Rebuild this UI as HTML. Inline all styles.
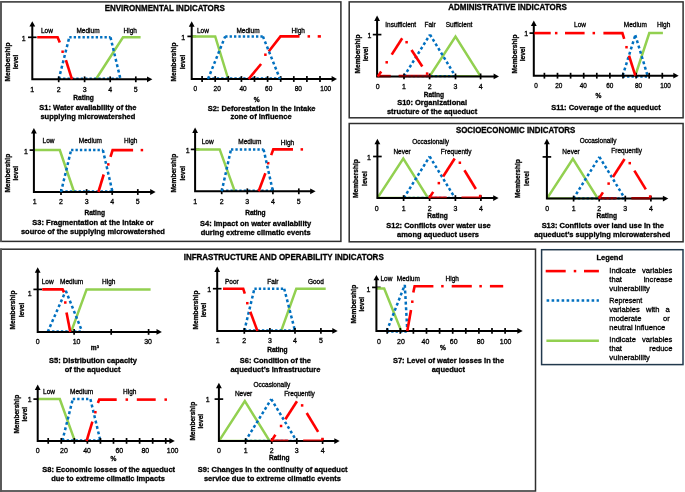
<!DOCTYPE html>
<html><head><meta charset="utf-8"><title>Fuzzy membership functions</title>
<style>
html,body{margin:0;padding:0;background:#fff;}
body{width:685px;height:492px;overflow:hidden;position:relative;font-family:"Liberation Sans",Arial,sans-serif;}
svg{position:absolute;left:0;top:0;display:block}
svg text{font-family:"Liberation Sans",Arial,sans-serif;fill:#000;stroke:#000;stroke-width:0.3px}
</style></head><body>
<svg width="685" height="492" viewBox="0 0 685 492">
<rect x="0" y="0" width="685" height="492" fill="#fff"/>
<rect x="0.9" y="1.9" width="340.0" height="239.5" fill="none" stroke="#2e2e2e" stroke-width="1.5"/>
<rect x="349.2" y="1.9" width="333.90000000000003" height="115.89999999999999" fill="none" stroke="#2e2e2e" stroke-width="1.5"/>
<rect x="349.2" y="123.5" width="333.90000000000003" height="118.30000000000001" fill="none" stroke="#2e2e2e" stroke-width="1.5"/>
<rect x="0.9" y="249.2" width="534.6" height="241.8" fill="none" stroke="#2e2e2e" stroke-width="1.5"/>
<path d="M0.95 1.2 V242.1" stroke="#585858" stroke-width="1.9"/>
<path d="M0.95 248.5 V492" stroke="#585858" stroke-width="1.9"/>
<rect x="541.6" y="249.7" width="141.39999999999998" height="114.90000000000003" fill="none" stroke="#22394d" stroke-width="1.5"/>
<text transform="translate(164.80,11.24) scale(1,1.04)" font-size="8.0" text-anchor="middle" font-weight="bold">ENVIRONMENTAL INDICATORS</text>
<text transform="translate(507.50,10.24) scale(1,1.04)" font-size="8.0" text-anchor="middle" font-weight="bold">ADMINISTRATIVE INDICATORS</text>
<text transform="translate(515.60,132.70) scale(1,1.04)" font-size="7.9" text-anchor="middle" font-weight="bold">SOCIOECONOMIC INDICATORS</text>
<text transform="translate(283.70,259.64) scale(1,1.04)" font-size="8.0" text-anchor="middle" font-weight="bold">INFRASTRUCTURE AND OPERABILITY INDICATORS</text>
<path d="M28.00 37.30 H36.60" stroke="#000" stroke-width="1.7"/>
<path d="M95.90 79.30 L123.00 37.30 L140.60 37.30" fill="none" stroke="#92d050" stroke-width="2.5" stroke-linejoin="miter" stroke-linecap="butt"/>
<path d="M58.70 79.30 L69.30 37.30" fill="none" stroke="#0070c0" stroke-width="2.5" stroke-dasharray="2.93 2.60" stroke-linejoin="miter" stroke-linecap="butt"/>
<path d="M69.30 37.30 L110.50 37.30" fill="none" stroke="#0070c0" stroke-width="2.5" stroke-dasharray="2.33 2.07" stroke-linejoin="miter" stroke-linecap="butt"/>
<path d="M110.50 37.30 L120.50 79.30" fill="none" stroke="#0070c0" stroke-width="2.5" stroke-dasharray="2.94 2.60" stroke-linejoin="miter" stroke-linecap="butt"/>
<path d="M58.70 78.70 L120.50 78.70" fill="none" stroke="#0070c0" stroke-width="2.2" stroke-dasharray="2.33 2.07" stroke-linejoin="miter" stroke-linecap="butt"/>
<path d="M32.30 24.20 V79.30 H149.40" fill="none" stroke="#000" stroke-width="2.0" stroke-linejoin="miter"/>
<path d="M32.30 21.20 l2.9 5.4 h-5.8 z" fill="#000"/>
<path d="M152.40 79.30 l-5.4 -2.9 v5.8 z" fill="#000"/>
<path d="M58.70 76.40 V82.20" stroke="#000" stroke-width="1.7"/>
<path d="M84.60 76.40 V82.20" stroke="#000" stroke-width="1.7"/>
<path d="M110.20 76.40 V82.20" stroke="#000" stroke-width="1.7"/>
<path d="M135.80 76.40 V82.20" stroke="#000" stroke-width="1.7"/>
<path d="M37.20 37.30 L57.60 37.30 L59.80 42.60" fill="none" stroke="#ff0000" stroke-width="2.6" stroke-linejoin="miter" stroke-linecap="butt"/>
<path d="M65.90 60.20 L72.00 79.30" fill="none" stroke="#ff0000" stroke-width="2.6" stroke-linejoin="miter" stroke-linecap="butt"/>
<rect x="61.35" y="50.45" width="2.50" height="2.50" fill="#ff0000"/>
<text transform="translate(23.80,40.87) scale(1,1.04)" font-size="7.0" text-anchor="middle">1</text>
<text transform="translate(32.30,91.77) scale(1,1.04)" font-size="7.0" text-anchor="middle">1</text>
<text transform="translate(58.70,91.77) scale(1,1.04)" font-size="7.0" text-anchor="middle">2</text>
<text transform="translate(84.60,91.77) scale(1,1.04)" font-size="7.0" text-anchor="middle">3</text>
<text transform="translate(110.20,91.77) scale(1,1.04)" font-size="7.0" text-anchor="middle">4</text>
<text transform="translate(135.80,91.77) scale(1,1.04)" font-size="7.0" text-anchor="middle">5</text>
<text transform="translate(46.90,33.39) scale(1,1.04)" font-size="6.5" text-anchor="middle">Low</text>
<text transform="translate(88.00,33.39) scale(1,1.04)" font-size="6.5" text-anchor="middle">Medium</text>
<text transform="translate(130.30,33.39) scale(1,1.04)" font-size="6.5" text-anchor="middle">High</text>
<text transform="translate(8.10,62.00) rotate(-90)" x="0" y="2.38" font-size="6.6" text-anchor="middle" font-weight="bold">Membership</text>
<text transform="translate(16.10,62.00) rotate(-90)" x="0" y="2.38" font-size="6.6" text-anchor="middle" font-weight="bold">level</text>
<text transform="translate(83.60,100.42) scale(1,1.04)" font-size="6.6" text-anchor="middle" font-weight="bold">Rating</text>
<text transform="translate(87.90,110.25) scale(1,1.04)" font-size="7.5" text-anchor="middle" font-weight="bold">S1: Water availability of the</text>
<text transform="translate(87.90,119.45) scale(1,1.04)" font-size="7.5" text-anchor="middle" font-weight="bold">supplying microwatershed</text>
<path d="M187.40 36.40 H196.00" stroke="#000" stroke-width="1.7"/>
<path d="M191.70 36.40 L215.20 36.40 L228.20 79.00" fill="none" stroke="#92d050" stroke-width="2.5" stroke-linejoin="miter" stroke-linecap="butt"/>
<path d="M208.00 78.40 L280.00 78.40" fill="none" stroke="#0070c0" stroke-width="2.2" stroke-dasharray="2.33 2.07" stroke-linejoin="miter" stroke-linecap="butt"/>
<path d="M191.70 24.30 V79.00 H334.00" fill="none" stroke="#000" stroke-width="2.0" stroke-linejoin="miter"/>
<path d="M191.70 21.30 l2.9 5.4 h-5.8 z" fill="#000"/>
<path d="M337.00 79.00 l-5.4 -2.9 v5.8 z" fill="#000"/>
<path d="M202.10 76.10 V81.90" stroke="#000" stroke-width="1.7"/>
<path d="M215.20 76.10 V81.90" stroke="#000" stroke-width="1.7"/>
<path d="M228.30 76.10 V81.90" stroke="#000" stroke-width="1.7"/>
<path d="M241.40 76.10 V81.90" stroke="#000" stroke-width="1.7"/>
<path d="M254.50 76.10 V81.90" stroke="#000" stroke-width="1.7"/>
<path d="M267.60 76.10 V81.90" stroke="#000" stroke-width="1.7"/>
<path d="M280.70 76.10 V81.90" stroke="#000" stroke-width="1.7"/>
<path d="M293.80 76.10 V81.90" stroke="#000" stroke-width="1.7"/>
<path d="M306.90 76.10 V81.90" stroke="#000" stroke-width="1.7"/>
<path d="M320.00 76.10 V81.90" stroke="#000" stroke-width="1.7"/>
<path d="M248.60 79.00 L261.10 64.00" fill="none" stroke="#ff0000" stroke-width="2.6" stroke-linejoin="miter" stroke-linecap="butt"/>
<path d="M268.70 51.50 L280.50 36.40 L299.50 36.40" fill="none" stroke="#ff0000" stroke-width="2.6" stroke-linejoin="miter" stroke-linecap="butt"/>
<path d="M317.70 36.40 L320.90 36.40" fill="none" stroke="#ff0000" stroke-width="2.6" stroke-linejoin="miter" stroke-linecap="butt"/>
<rect x="264.15" y="53.45" width="2.50" height="2.50" fill="#ff0000"/>
<rect x="307.55" y="35.15" width="2.50" height="2.50" fill="#ff0000"/>
<path d="M208.00 79.00 L225.20 36.40" fill="none" stroke="#0070c0" stroke-width="2.5" stroke-dasharray="2.89 2.56" stroke-linejoin="miter" stroke-linecap="butt"/>
<path d="M225.20 36.40 L262.90 36.40" fill="none" stroke="#0070c0" stroke-width="2.5" stroke-dasharray="2.33 2.07" stroke-linejoin="miter" stroke-linecap="butt"/>
<path d="M262.90 36.40 L280.00 79.00" fill="none" stroke="#0070c0" stroke-width="2.5" stroke-dasharray="2.89 2.56" stroke-linejoin="miter" stroke-linecap="butt"/>
<text transform="translate(183.30,40.27) scale(1,1.04)" font-size="7.0" text-anchor="middle">1</text>
<text transform="translate(195.30,90.69) scale(1,1.04)" font-size="6.5" text-anchor="middle">0</text>
<text transform="translate(217.20,90.69) scale(1,1.04)" font-size="6.5" text-anchor="middle">20</text>
<text transform="translate(243.00,90.69) scale(1,1.04)" font-size="6.5" text-anchor="middle">40</text>
<text transform="translate(268.70,90.69) scale(1,1.04)" font-size="6.5" text-anchor="middle">60</text>
<text transform="translate(298.30,90.69) scale(1,1.04)" font-size="6.5" text-anchor="middle">80</text>
<text transform="translate(325.70,90.69) scale(1,1.04)" font-size="6.5" text-anchor="middle">100</text>
<text transform="translate(202.90,33.29) scale(1,1.04)" font-size="6.5" text-anchor="middle">Low</text>
<text transform="translate(248.00,33.29) scale(1,1.04)" font-size="6.5" text-anchor="middle">Medium</text>
<text transform="translate(298.30,32.59) scale(1,1.04)" font-size="6.5" text-anchor="middle">High</text>
<text transform="translate(173.70,62.00) rotate(-90)" x="0" y="2.38" font-size="6.6" text-anchor="middle" font-weight="bold">Membership</text>
<text transform="translate(182.20,62.00) rotate(-90)" x="0" y="2.38" font-size="6.6" text-anchor="middle" font-weight="bold">level</text>
<text transform="translate(256.60,102.32) scale(1,1.04)" font-size="6.6" text-anchor="middle" font-weight="bold">%</text>
<text transform="translate(261.60,110.75) scale(1,1.04)" font-size="7.5" text-anchor="middle" font-weight="bold">S2: Deforestation in the intake</text>
<text transform="translate(261.00,119.45) scale(1,1.04)" font-size="7.5" text-anchor="middle" font-weight="bold">zone of influence</text>
<path d="M29.60 150.10 H38.20" stroke="#000" stroke-width="1.7"/>
<path d="M33.90 150.10 L59.80 150.10 L74.10 192.00" fill="none" stroke="#92d050" stroke-width="2.5" stroke-linejoin="miter" stroke-linecap="butt"/>
<path d="M61.00 191.40 L112.50 191.40" fill="none" stroke="#0070c0" stroke-width="2.2" stroke-dasharray="2.33 2.07" stroke-linejoin="miter" stroke-linecap="butt"/>
<path d="M33.90 131.00 V192.00 H152.60" fill="none" stroke="#000" stroke-width="2.0" stroke-linejoin="miter"/>
<path d="M33.90 128.00 l2.9 5.4 h-5.8 z" fill="#000"/>
<path d="M155.60 192.00 l-5.4 -2.9 v5.8 z" fill="#000"/>
<path d="M61.00 189.10 V194.90" stroke="#000" stroke-width="1.7"/>
<path d="M86.60 189.10 V194.90" stroke="#000" stroke-width="1.7"/>
<path d="M112.20 189.10 V194.90" stroke="#000" stroke-width="1.7"/>
<path d="M137.80 189.10 V194.90" stroke="#000" stroke-width="1.7"/>
<path d="M98.40 192.00 L103.70 174.50" fill="none" stroke="#ff0000" stroke-width="2.6" stroke-linejoin="miter" stroke-linecap="butt"/>
<path d="M110.50 156.90 L112.60 150.10 L133.10 150.10" fill="none" stroke="#ff0000" stroke-width="2.6" stroke-linejoin="miter" stroke-linecap="butt"/>
<rect x="107.05" y="163.15" width="2.50" height="2.50" fill="#ff0000"/>
<rect x="140.65" y="148.85" width="2.50" height="2.50" fill="#ff0000"/>
<path d="M61.00 192.00 L71.10 150.10" fill="none" stroke="#0070c0" stroke-width="2.5" stroke-dasharray="2.94 2.60" stroke-linejoin="miter" stroke-linecap="butt"/>
<path d="M71.10 150.10 L102.90 150.10" fill="none" stroke="#0070c0" stroke-width="2.5" stroke-dasharray="2.33 2.07" stroke-linejoin="miter" stroke-linecap="butt"/>
<path d="M102.90 150.10 L112.50 192.00" fill="none" stroke="#0070c0" stroke-width="2.5" stroke-dasharray="2.94 2.61" stroke-linejoin="miter" stroke-linecap="butt"/>
<text transform="translate(25.90,153.97) scale(1,1.04)" font-size="7.0" text-anchor="middle">1</text>
<text transform="translate(34.60,204.27) scale(1,1.04)" font-size="7.0" text-anchor="middle">1</text>
<text transform="translate(61.00,204.27) scale(1,1.04)" font-size="7.0" text-anchor="middle">2</text>
<text transform="translate(86.60,204.27) scale(1,1.04)" font-size="7.0" text-anchor="middle">3</text>
<text transform="translate(112.20,204.27) scale(1,1.04)" font-size="7.0" text-anchor="middle">4</text>
<text transform="translate(137.80,204.27) scale(1,1.04)" font-size="7.0" text-anchor="middle">5</text>
<text transform="translate(48.50,143.49) scale(1,1.04)" font-size="6.5" text-anchor="middle">Low</text>
<text transform="translate(90.40,143.49) scale(1,1.04)" font-size="6.5" text-anchor="middle">Medium</text>
<text transform="translate(130.80,143.19) scale(1,1.04)" font-size="6.5" text-anchor="middle">High</text>
<text transform="translate(7.60,173.20) rotate(-90)" x="0" y="2.38" font-size="6.6" text-anchor="middle" font-weight="bold">Membership</text>
<text transform="translate(16.10,173.20) rotate(-90)" x="0" y="2.38" font-size="6.6" text-anchor="middle" font-weight="bold">level</text>
<text transform="translate(94.70,215.32) scale(1,1.04)" font-size="6.6" text-anchor="middle" font-weight="bold">Rating</text>
<text transform="translate(92.90,225.45) scale(1,1.04)" font-size="7.5" text-anchor="middle" font-weight="bold">S3: Fragmentation at the intake or</text>
<text transform="translate(92.90,234.25) scale(1,1.04)" font-size="7.5" text-anchor="middle" font-weight="bold">source of the supplying microwatershed</text>
<path d="M190.80 149.40 H199.40" stroke="#000" stroke-width="1.7"/>
<path d="M195.10 149.40 L219.70 149.40 L234.80 191.30" fill="none" stroke="#92d050" stroke-width="2.5" stroke-linejoin="miter" stroke-linecap="butt"/>
<path d="M221.70 190.70 L272.90 190.70" fill="none" stroke="#0070c0" stroke-width="2.2" stroke-dasharray="2.33 2.07" stroke-linejoin="miter" stroke-linecap="butt"/>
<path d="M195.10 130.50 V191.30 H312.60" fill="none" stroke="#000" stroke-width="2.0" stroke-linejoin="miter"/>
<path d="M195.10 127.50 l2.9 5.4 h-5.8 z" fill="#000"/>
<path d="M315.60 191.30 l-5.4 -2.9 v5.8 z" fill="#000"/>
<path d="M221.70 188.40 V194.20" stroke="#000" stroke-width="1.7"/>
<path d="M247.30 188.40 V194.20" stroke="#000" stroke-width="1.7"/>
<path d="M272.90 188.40 V194.20" stroke="#000" stroke-width="1.7"/>
<path d="M298.80 188.40 V194.20" stroke="#000" stroke-width="1.7"/>
<path d="M258.60 191.30 L265.40 173.20" fill="none" stroke="#ff0000" stroke-width="2.6" stroke-linejoin="miter" stroke-linecap="butt"/>
<path d="M271.20 155.10 L273.30 149.40 L293.00 149.40" fill="none" stroke="#ff0000" stroke-width="2.6" stroke-linejoin="miter" stroke-linecap="butt"/>
<rect x="266.95" y="161.95" width="2.50" height="2.50" fill="#ff0000"/>
<rect x="300.55" y="148.15" width="2.50" height="2.50" fill="#ff0000"/>
<path d="M221.70 191.30 L231.00 149.40" fill="none" stroke="#0070c0" stroke-width="2.5" stroke-dasharray="2.94 2.61" stroke-linejoin="miter" stroke-linecap="butt"/>
<path d="M231.00 149.40 L263.60 149.40" fill="none" stroke="#0070c0" stroke-width="2.5" stroke-dasharray="2.33 2.07" stroke-linejoin="miter" stroke-linecap="butt"/>
<path d="M263.60 149.40 L272.90 191.30" fill="none" stroke="#0070c0" stroke-width="2.5" stroke-dasharray="2.94 2.61" stroke-linejoin="miter" stroke-linecap="butt"/>
<text transform="translate(187.60,153.17) scale(1,1.04)" font-size="7.0" text-anchor="middle">1</text>
<text transform="translate(195.10,204.17) scale(1,1.04)" font-size="7.0" text-anchor="middle">1</text>
<text transform="translate(221.70,204.17) scale(1,1.04)" font-size="7.0" text-anchor="middle">2</text>
<text transform="translate(247.30,204.17) scale(1,1.04)" font-size="7.0" text-anchor="middle">3</text>
<text transform="translate(272.90,204.17) scale(1,1.04)" font-size="7.0" text-anchor="middle">4</text>
<text transform="translate(298.80,204.17) scale(1,1.04)" font-size="7.0" text-anchor="middle">5</text>
<text transform="translate(207.70,143.69) scale(1,1.04)" font-size="6.5" text-anchor="middle">Low</text>
<text transform="translate(249.80,143.69) scale(1,1.04)" font-size="6.5" text-anchor="middle">Medium</text>
<text transform="translate(287.50,144.69) scale(1,1.04)" font-size="6.5" text-anchor="middle">High</text>
<text transform="translate(173.70,173.20) rotate(-90)" x="0" y="2.38" font-size="6.6" text-anchor="middle" font-weight="bold">Membership</text>
<text transform="translate(182.30,173.20) rotate(-90)" x="0" y="2.38" font-size="6.6" text-anchor="middle" font-weight="bold">level</text>
<text transform="translate(255.40,214.52) scale(1,1.04)" font-size="6.6" text-anchor="middle" font-weight="bold">Rating</text>
<text transform="translate(255.60,225.95) scale(1,1.04)" font-size="7.5" text-anchor="middle" font-weight="bold">S4: Impact on water availability</text>
<text transform="translate(255.60,235.15) scale(1,1.04)" font-size="7.5" text-anchor="middle" font-weight="bold">during extreme climatic events</text>
<path d="M372.80 34.60 H381.40" stroke="#000" stroke-width="1.7"/>
<path d="M429.60 76.40 L455.50 36.60 L480.60 76.40" fill="none" stroke="#92d050" stroke-width="2.5" stroke-linejoin="miter" stroke-linecap="butt"/>
<path d="M429.60 76.10 L480.60 76.10" fill="none" stroke="#92d050" stroke-width="2.0" stroke-linejoin="miter" stroke-linecap="butt"/>
<path d="M377.10 76.05 L390.70 76.05" fill="none" stroke="#ff0000" stroke-width="2.5" stroke-linejoin="miter" stroke-linecap="butt"/>
<path d="M398.70 76.05 L430.90 76.05" fill="none" stroke="#ff0000" stroke-width="2.5" stroke-linejoin="miter" stroke-linecap="butt"/>
<path d="M404.00 76.40 L430.00 34.60" fill="none" stroke="#0070c0" stroke-width="2.5" stroke-dasharray="2.81 2.49" stroke-linejoin="miter" stroke-linecap="butt"/>
<path d="M430.00 34.60 L455.50 76.40" fill="none" stroke="#0070c0" stroke-width="2.5" stroke-dasharray="2.81 2.49" stroke-linejoin="miter" stroke-linecap="butt"/>
<path d="M404.00 76.10 L455.50 76.10" fill="none" stroke="#0070c0" stroke-width="2.2" stroke-dasharray="2.33 2.07" stroke-linejoin="miter" stroke-linecap="butt"/>
<path d="M377.10 18.60 V76.40 H496.00" fill="none" stroke="#000" stroke-width="2.0" stroke-linejoin="miter"/>
<path d="M377.10 15.60 l2.9 5.4 h-5.8 z" fill="#000"/>
<path d="M499.00 76.40 l-5.4 -2.9 v5.8 z" fill="#000"/>
<path d="M404.00 73.50 V79.30" stroke="#000" stroke-width="1.7"/>
<path d="M429.60 73.50 V79.30" stroke="#000" stroke-width="1.7"/>
<path d="M455.50 73.50 V79.30" stroke="#000" stroke-width="1.7"/>
<path d="M480.60 73.50 V79.30" stroke="#000" stroke-width="1.7"/>
<path d="M377.10 75.95 L390.70 75.95" fill="none" stroke="#c80000" stroke-width="0.9" stroke-linejoin="miter" stroke-linecap="butt"/>
<path d="M398.70 75.95 L430.90 75.95" fill="none" stroke="#c80000" stroke-width="0.9" stroke-linejoin="miter" stroke-linecap="butt"/>
<path d="M377.80 76.40 L381.20 71.50" fill="none" stroke="#ff0000" stroke-width="2.6" stroke-linejoin="miter" stroke-linecap="butt"/>
<path d="M391.70 54.60 L402.20 38.20" fill="none" stroke="#ff0000" stroke-width="2.6" stroke-linejoin="miter" stroke-linecap="butt"/>
<path d="M411.50 50.00 L422.30 66.50" fill="none" stroke="#ff0000" stroke-width="2.6" stroke-linejoin="miter" stroke-linecap="butt"/>
<rect x="385.45" y="61.05" width="2.50" height="2.50" fill="#ff0000"/>
<rect x="405.35" y="40.95" width="2.50" height="2.50" fill="#ff0000"/>
<rect x="425.85" y="72.35" width="2.50" height="2.50" fill="#ff0000"/>
<text transform="translate(369.40,38.47) scale(1,1.04)" font-size="7.0" text-anchor="middle">1</text>
<text transform="translate(377.60,89.27) scale(1,1.04)" font-size="7.0" text-anchor="middle">0</text>
<text transform="translate(404.00,89.27) scale(1,1.04)" font-size="7.0" text-anchor="middle">1</text>
<text transform="translate(429.60,89.27) scale(1,1.04)" font-size="7.0" text-anchor="middle">2</text>
<text transform="translate(455.50,89.27) scale(1,1.04)" font-size="7.0" text-anchor="middle">3</text>
<text transform="translate(480.60,89.27) scale(1,1.04)" font-size="7.0" text-anchor="middle">4</text>
<text transform="translate(400.70,27.49) scale(1,1.04)" font-size="6.5" text-anchor="middle">Insufficient</text>
<text transform="translate(430.10,27.49) scale(1,1.04)" font-size="6.5" text-anchor="middle">Fair</text>
<text transform="translate(459.00,27.49) scale(1,1.04)" font-size="6.5" text-anchor="middle">Sufficient</text>
<text transform="translate(357.90,54.00) rotate(-90)" x="0" y="2.38" font-size="6.6" text-anchor="middle" font-weight="bold">Membership</text>
<text transform="translate(365.60,54.00) rotate(-90)" x="0" y="2.38" font-size="6.6" text-anchor="middle" font-weight="bold">level</text>
<text transform="translate(433.90,96.72) scale(1,1.04)" font-size="6.6" text-anchor="middle" font-weight="bold">Rating</text>
<text transform="translate(432.10,105.05) scale(1,1.04)" font-size="7.5" text-anchor="middle" font-weight="bold">S10: Organizational</text>
<text transform="translate(432.10,114.45) scale(1,1.04)" font-size="7.5" text-anchor="middle" font-weight="bold">structure of the aqueduct</text>
<path d="M529.50 33.10 H538.10" stroke="#000" stroke-width="1.7"/>
<path d="M635.30 75.70 L649.30 33.10 L662.90 33.10" fill="none" stroke="#92d050" stroke-width="2.5" stroke-linejoin="miter" stroke-linecap="butt"/>
<path d="M622.70 75.70 L635.30 35.10" fill="none" stroke="#0070c0" stroke-width="2.5" stroke-dasharray="2.92 2.59" stroke-linejoin="miter" stroke-linecap="butt"/>
<path d="M635.30 35.10 L647.60 75.70" fill="none" stroke="#0070c0" stroke-width="2.5" stroke-dasharray="2.92 2.59" stroke-linejoin="miter" stroke-linecap="butt"/>
<path d="M622.70 76.70 L647.60 76.70" fill="none" stroke="#0070c0" stroke-width="2.2" stroke-dasharray="2.33 2.07" stroke-linejoin="miter" stroke-linecap="butt"/>
<path d="M533.80 23.60 V75.70 H675.70" fill="none" stroke="#000" stroke-width="2.0" stroke-linejoin="miter"/>
<path d="M533.80 20.60 l2.9 5.4 h-5.8 z" fill="#000"/>
<path d="M678.70 75.70 l-5.4 -2.9 v5.8 z" fill="#000"/>
<path d="M544.40 72.80 V78.60" stroke="#000" stroke-width="1.7"/>
<path d="M557.50 72.80 V78.60" stroke="#000" stroke-width="1.7"/>
<path d="M570.60 72.80 V78.60" stroke="#000" stroke-width="1.7"/>
<path d="M583.70 72.80 V78.60" stroke="#000" stroke-width="1.7"/>
<path d="M596.80 72.80 V78.60" stroke="#000" stroke-width="1.7"/>
<path d="M609.90 72.80 V78.60" stroke="#000" stroke-width="1.7"/>
<path d="M623.00 72.80 V78.60" stroke="#000" stroke-width="1.7"/>
<path d="M636.10 72.80 V78.60" stroke="#000" stroke-width="1.7"/>
<path d="M649.20 72.80 V78.60" stroke="#000" stroke-width="1.7"/>
<path d="M662.30 72.80 V78.60" stroke="#000" stroke-width="1.7"/>
<path d="M534.30 33.10 L550.70 33.10" fill="none" stroke="#ff0000" stroke-width="2.6" stroke-linejoin="miter" stroke-linecap="butt"/>
<path d="M565.00 33.10 L584.60 33.10" fill="none" stroke="#ff0000" stroke-width="2.6" stroke-linejoin="miter" stroke-linecap="butt"/>
<path d="M603.40 33.10 L622.40 33.10 L624.20 38.90" fill="none" stroke="#ff0000" stroke-width="2.6" stroke-linejoin="miter" stroke-linecap="butt"/>
<path d="M629.00 55.70 L635.30 75.70" fill="none" stroke="#ff0000" stroke-width="2.6" stroke-linejoin="miter" stroke-linecap="butt"/>
<rect x="554.95" y="31.85" width="2.50" height="2.50" fill="#ff0000"/>
<rect x="592.55" y="31.85" width="2.50" height="2.50" fill="#ff0000"/>
<rect x="625.25" y="45.95" width="2.50" height="2.50" fill="#ff0000"/>
<text transform="translate(526.10,36.47) scale(1,1.04)" font-size="7.0" text-anchor="middle">1</text>
<text transform="translate(536.10,88.15) scale(1,1.04)" font-size="6.4" text-anchor="middle">0</text>
<text transform="translate(558.70,88.15) scale(1,1.04)" font-size="6.4" text-anchor="middle">20</text>
<text transform="translate(583.30,88.15) scale(1,1.04)" font-size="6.4" text-anchor="middle">40</text>
<text transform="translate(609.70,88.15) scale(1,1.04)" font-size="6.4" text-anchor="middle">60</text>
<text transform="translate(638.50,88.15) scale(1,1.04)" font-size="6.4" text-anchor="middle">80</text>
<text transform="translate(665.60,88.15) scale(1,1.04)" font-size="6.4" text-anchor="middle">100</text>
<text transform="translate(580.00,26.99) scale(1,1.04)" font-size="6.5" text-anchor="middle">Low</text>
<text transform="translate(635.30,26.99) scale(1,1.04)" font-size="6.5" text-anchor="middle">Medium</text>
<text transform="translate(663.60,26.99) scale(1,1.04)" font-size="6.5" text-anchor="middle">High</text>
<text transform="translate(514.80,54.00) rotate(-90)" x="0" y="2.38" font-size="6.6" text-anchor="middle" font-weight="bold">Membership</text>
<text transform="translate(522.80,54.00) rotate(-90)" x="0" y="2.38" font-size="6.6" text-anchor="middle" font-weight="bold">level</text>
<text transform="translate(598.40,97.82) scale(1,1.04)" font-size="6.6" text-anchor="middle" font-weight="bold">%</text>
<text transform="translate(605.90,109.85) scale(1,1.04)" font-size="7.5" text-anchor="middle" font-weight="bold">S11: Coverage of the aqueduct</text>
<path d="M373.10 156.50 H381.70" stroke="#000" stroke-width="1.7"/>
<path d="M377.40 198.10 L403.27 158.50 L428.11 198.10" fill="none" stroke="#92d050" stroke-width="2.5" stroke-linejoin="miter" stroke-linecap="butt"/>
<path d="M377.40 197.80 L428.11 197.80" fill="none" stroke="#92d050" stroke-width="2.0" stroke-linejoin="miter" stroke-linecap="butt"/>
<path d="M429.15 197.75 L446.75 197.75" fill="none" stroke="#ff0000" stroke-width="2.5" stroke-linejoin="miter" stroke-linecap="butt"/>
<path d="M461.49 197.75 L480.90 197.75" fill="none" stroke="#ff0000" stroke-width="2.5" stroke-linejoin="miter" stroke-linecap="butt"/>
<path d="M403.79 198.10 L429.67 156.50" fill="none" stroke="#0070c0" stroke-width="2.5" stroke-dasharray="2.81 2.49" stroke-linejoin="miter" stroke-linecap="butt"/>
<path d="M429.67 156.50 L455.02 198.10" fill="none" stroke="#0070c0" stroke-width="2.5" stroke-dasharray="2.81 2.49" stroke-linejoin="miter" stroke-linecap="butt"/>
<path d="M403.79 197.90 L455.02 197.90" fill="none" stroke="#0070c0" stroke-width="2.2" stroke-dasharray="2.33 2.07" stroke-linejoin="miter" stroke-linecap="butt"/>
<path d="M377.40 141.80 V198.10 H495.60" fill="none" stroke="#000" stroke-width="2.0" stroke-linejoin="miter"/>
<path d="M377.40 138.80 l2.9 5.4 h-5.8 z" fill="#000"/>
<path d="M498.60 198.10 l-5.4 -2.9 v5.8 z" fill="#000"/>
<path d="M403.60 195.20 V201.00" stroke="#000" stroke-width="1.7"/>
<path d="M429.60 195.20 V201.00" stroke="#000" stroke-width="1.7"/>
<path d="M455.40 195.20 V201.00" stroke="#000" stroke-width="1.7"/>
<path d="M480.90 195.20 V201.00" stroke="#000" stroke-width="1.7"/>
<path d="M429.15 197.65 L446.75 197.65" fill="none" stroke="#c80000" stroke-width="0.9" stroke-linejoin="miter" stroke-linecap="butt"/>
<path d="M461.49 197.65 L480.90 197.65" fill="none" stroke="#c80000" stroke-width="0.9" stroke-linejoin="miter" stroke-linecap="butt"/>
<path d="M429.15 198.10 L433.19 191.86" fill="none" stroke="#ff0000" stroke-width="2.6" stroke-linejoin="miter" stroke-linecap="butt"/>
<path d="M443.14 176.47 L454.71 158.58" fill="none" stroke="#ff0000" stroke-width="2.6" stroke-linejoin="miter" stroke-linecap="butt"/>
<path d="M464.43 170.23 L475.84 188.95" fill="none" stroke="#ff0000" stroke-width="2.6" stroke-linejoin="miter" stroke-linecap="butt"/>
<rect x="437.59" y="181.87" width="2.50" height="2.50" fill="#ff0000"/>
<rect x="458.61" y="161.49" width="2.50" height="2.50" fill="#ff0000"/>
<rect x="478.90" y="194.77" width="2.50" height="2.50" fill="#ff0000"/>
<text transform="translate(369.00,160.17) scale(1,1.04)" font-size="7.0" text-anchor="middle">1</text>
<text transform="translate(376.80,211.17) scale(1,1.04)" font-size="7.0" text-anchor="middle">0</text>
<text transform="translate(403.60,211.17) scale(1,1.04)" font-size="7.0" text-anchor="middle">1</text>
<text transform="translate(429.60,211.17) scale(1,1.04)" font-size="7.0" text-anchor="middle">2</text>
<text transform="translate(455.40,211.17) scale(1,1.04)" font-size="7.0" text-anchor="middle">3</text>
<text transform="translate(480.90,211.17) scale(1,1.04)" font-size="7.0" text-anchor="middle">4</text>
<text transform="translate(430.70,143.79) scale(1,1.04)" font-size="6.5" text-anchor="middle">Occasionally</text>
<text transform="translate(402.10,153.69) scale(1,1.04)" font-size="6.5" text-anchor="middle">Never</text>
<text transform="translate(456.20,153.69) scale(1,1.04)" font-size="6.5" text-anchor="middle">Frequently</text>
<text transform="translate(355.80,178.60) rotate(-90)" x="0" y="2.38" font-size="6.6" text-anchor="middle" font-weight="bold">Membership</text>
<text transform="translate(364.90,178.60) rotate(-90)" x="0" y="2.38" font-size="6.6" text-anchor="middle" font-weight="bold">level</text>
<text transform="translate(437.50,217.52) scale(1,1.04)" font-size="6.6" text-anchor="middle" font-weight="bold">Rating</text>
<text transform="translate(438.50,227.95) scale(1,1.04)" font-size="7.5" text-anchor="middle" font-weight="bold">S12: Conflicts over water use</text>
<text transform="translate(438.00,237.05) scale(1,1.04)" font-size="7.5" text-anchor="middle" font-weight="bold">among aqueduct users</text>
<path d="M542.60 156.90 H551.20" stroke="#000" stroke-width="1.7"/>
<path d="M546.90 198.60 L572.90 158.90 L597.86 198.60" fill="none" stroke="#92d050" stroke-width="2.5" stroke-linejoin="miter" stroke-linecap="butt"/>
<path d="M546.90 198.30 L597.86 198.30" fill="none" stroke="#92d050" stroke-width="2.0" stroke-linejoin="miter" stroke-linecap="butt"/>
<path d="M598.90 198.25 L616.58 198.25" fill="none" stroke="#ff0000" stroke-width="2.5" stroke-linejoin="miter" stroke-linecap="butt"/>
<path d="M631.40 198.25 L650.90 198.25" fill="none" stroke="#ff0000" stroke-width="2.5" stroke-linejoin="miter" stroke-linecap="butt"/>
<path d="M573.42 198.60 L599.42 156.90" fill="none" stroke="#0070c0" stroke-width="2.5" stroke-dasharray="2.80 2.49" stroke-linejoin="miter" stroke-linecap="butt"/>
<path d="M599.42 156.90 L624.90 198.60" fill="none" stroke="#0070c0" stroke-width="2.5" stroke-dasharray="2.81 2.49" stroke-linejoin="miter" stroke-linecap="butt"/>
<path d="M573.42 198.40 L624.90 198.40" fill="none" stroke="#0070c0" stroke-width="2.2" stroke-dasharray="2.33 2.07" stroke-linejoin="miter" stroke-linecap="butt"/>
<path d="M546.90 141.80 V198.60 H665.30" fill="none" stroke="#000" stroke-width="2.0" stroke-linejoin="miter"/>
<path d="M546.90 138.80 l2.9 5.4 h-5.8 z" fill="#000"/>
<path d="M668.30 198.60 l-5.4 -2.9 v5.8 z" fill="#000"/>
<path d="M573.60 195.70 V201.50" stroke="#000" stroke-width="1.7"/>
<path d="M599.20 195.70 V201.50" stroke="#000" stroke-width="1.7"/>
<path d="M625.30 195.70 V201.50" stroke="#000" stroke-width="1.7"/>
<path d="M650.90 195.70 V201.50" stroke="#000" stroke-width="1.7"/>
<path d="M598.90 198.15 L616.58 198.15" fill="none" stroke="#c80000" stroke-width="0.9" stroke-linejoin="miter" stroke-linecap="butt"/>
<path d="M631.40 198.15 L650.90 198.15" fill="none" stroke="#c80000" stroke-width="0.9" stroke-linejoin="miter" stroke-linecap="butt"/>
<path d="M598.90 198.60 L602.96 192.34" fill="none" stroke="#ff0000" stroke-width="2.6" stroke-linejoin="miter" stroke-linecap="butt"/>
<path d="M612.96 176.92 L624.59 158.99" fill="none" stroke="#ff0000" stroke-width="2.6" stroke-linejoin="miter" stroke-linecap="butt"/>
<path d="M634.35 170.66 L645.81 189.43" fill="none" stroke="#ff0000" stroke-width="2.6" stroke-linejoin="miter" stroke-linecap="butt"/>
<rect x="607.38" y="182.34" width="2.50" height="2.50" fill="#ff0000"/>
<rect x="628.51" y="161.91" width="2.50" height="2.50" fill="#ff0000"/>
<rect x="648.90" y="195.26" width="2.50" height="2.50" fill="#ff0000"/>
<text transform="translate(547.20,211.17) scale(1,1.04)" font-size="7.0" text-anchor="middle">0</text>
<text transform="translate(573.60,211.17) scale(1,1.04)" font-size="7.0" text-anchor="middle">1</text>
<text transform="translate(599.20,211.17) scale(1,1.04)" font-size="7.0" text-anchor="middle">2</text>
<text transform="translate(625.30,211.17) scale(1,1.04)" font-size="7.0" text-anchor="middle">3</text>
<text transform="translate(650.90,211.17) scale(1,1.04)" font-size="7.0" text-anchor="middle">4</text>
<text transform="translate(598.10,143.29) scale(1,1.04)" font-size="6.5" text-anchor="middle">Occasionally</text>
<text transform="translate(571.00,153.69) scale(1,1.04)" font-size="6.5" text-anchor="middle">Never</text>
<text transform="translate(626.70,152.89) scale(1,1.04)" font-size="6.5" text-anchor="middle">Frequently</text>
<text transform="translate(518.00,178.60) rotate(-90)" x="0" y="2.38" font-size="6.6" text-anchor="middle" font-weight="bold">Membership</text>
<text transform="translate(527.10,178.60) rotate(-90)" x="0" y="2.38" font-size="6.6" text-anchor="middle" font-weight="bold">level</text>
<text transform="translate(606.70,217.52) scale(1,1.04)" font-size="6.6" text-anchor="middle" font-weight="bold">Rating</text>
<text transform="translate(602.80,227.95) scale(1,1.04)" font-size="7.5" text-anchor="middle" font-weight="bold">S13: Conflicts over land use in the</text>
<text transform="translate(602.30,237.05) scale(1,1.04)" font-size="7.5" text-anchor="middle" font-weight="bold">aqueduct’s supplying microwatershed</text>
<path d="M33.40 289.40 H42.00" stroke="#000" stroke-width="1.7"/>
<path d="M71.10 331.90 L86.60 289.40 L150.60 289.40" fill="none" stroke="#92d050" stroke-width="2.5" stroke-linejoin="miter" stroke-linecap="butt"/>
<path d="M47.70 331.90 L65.80 290.70" fill="none" stroke="#0070c0" stroke-width="2.5" stroke-dasharray="2.87 2.55" stroke-linejoin="miter" stroke-linecap="butt"/>
<path d="M65.80 290.70 L82.30 331.90" fill="none" stroke="#0070c0" stroke-width="2.5" stroke-dasharray="2.89 2.56" stroke-linejoin="miter" stroke-linecap="butt"/>
<path d="M47.70 331.30 L82.30 331.30" fill="none" stroke="#0070c0" stroke-width="2.2" stroke-dasharray="2.33 2.07" stroke-linejoin="miter" stroke-linecap="butt"/>
<path d="M37.70 270.30 V331.90 H158.90" fill="none" stroke="#000" stroke-width="2.0" stroke-linejoin="miter"/>
<path d="M37.70 267.30 l2.9 5.4 h-5.8 z" fill="#000"/>
<path d="M161.90 331.90 l-5.4 -2.9 v5.8 z" fill="#000"/>
<path d="M74.10 329.00 V334.80" stroke="#000" stroke-width="1.7"/>
<path d="M111.20 329.00 V334.80" stroke="#000" stroke-width="1.7"/>
<path d="M148.60 329.00 V334.80" stroke="#000" stroke-width="1.7"/>
<path d="M42.20 289.40 L62.60 289.40 L64.00 292.40" fill="none" stroke="#ff0000" stroke-width="2.6" stroke-linejoin="miter" stroke-linecap="butt"/>
<path d="M66.50 312.50 L70.30 331.90" fill="none" stroke="#ff0000" stroke-width="2.6" stroke-linejoin="miter" stroke-linecap="butt"/>
<rect x="64.05" y="301.25" width="2.50" height="2.50" fill="#ff0000"/>
<text transform="translate(29.60,295.77) scale(1,1.04)" font-size="7.0" text-anchor="middle">1</text>
<text transform="translate(37.70,343.97) scale(1,1.04)" font-size="7.0" text-anchor="middle">0</text>
<text transform="translate(76.60,343.97) scale(1,1.04)" font-size="7.0" text-anchor="middle">10</text>
<text transform="translate(148.10,343.97) scale(1,1.04)" font-size="7.0" text-anchor="middle">30</text>
<text transform="translate(47.70,284.29) scale(1,1.04)" font-size="6.5" text-anchor="middle">Low</text>
<text transform="translate(71.60,284.29) scale(1,1.04)" font-size="6.5" text-anchor="middle">Medium</text>
<text transform="translate(108.70,283.99) scale(1,1.04)" font-size="6.5" text-anchor="middle">High</text>
<text transform="translate(13.10,310.00) rotate(-90)" x="0" y="2.38" font-size="6.6" text-anchor="middle" font-weight="bold">Membership</text>
<text transform="translate(21.40,310.00) rotate(-90)" x="0" y="2.38" font-size="6.6" text-anchor="middle" font-weight="bold">level</text>
<text transform="translate(94.90,349.62) scale(1,1.04)" font-size="6.6" text-anchor="middle" font-weight="bold">m³</text>
<text transform="translate(92.90,362.85) scale(1,1.04)" font-size="7.5" text-anchor="middle" font-weight="bold">S5: Distribution capacity</text>
<text transform="translate(92.50,371.65) scale(1,1.04)" font-size="7.5" text-anchor="middle" font-weight="bold">of the aqueduct</text>
<path d="M212.90 288.70 H221.50" stroke="#000" stroke-width="1.7"/>
<path d="M281.20 330.90 L296.30 288.70 L325.70 288.70" fill="none" stroke="#92d050" stroke-width="2.5" stroke-linejoin="miter" stroke-linecap="butt"/>
<path d="M244.30 330.90 L254.40 288.70" fill="none" stroke="#0070c0" stroke-width="2.5" stroke-dasharray="2.94 2.60" stroke-linejoin="miter" stroke-linecap="butt"/>
<path d="M254.40 288.70 L284.20 288.70" fill="none" stroke="#0070c0" stroke-width="2.5" stroke-dasharray="2.33 2.07" stroke-linejoin="miter" stroke-linecap="butt"/>
<path d="M284.20 288.70 L295.00 330.90" fill="none" stroke="#0070c0" stroke-width="2.5" stroke-dasharray="2.93 2.60" stroke-linejoin="miter" stroke-linecap="butt"/>
<path d="M244.30 330.30 L295.00 330.30" fill="none" stroke="#0070c0" stroke-width="2.2" stroke-dasharray="2.33 2.07" stroke-linejoin="miter" stroke-linecap="butt"/>
<path d="M217.20 269.60 V330.90 H334.70" fill="none" stroke="#000" stroke-width="2.0" stroke-linejoin="miter"/>
<path d="M217.20 266.60 l2.9 5.4 h-5.8 z" fill="#000"/>
<path d="M337.70 330.90 l-5.4 -2.9 v5.8 z" fill="#000"/>
<path d="M244.30 328.00 V333.80" stroke="#000" stroke-width="1.7"/>
<path d="M269.90 328.00 V333.80" stroke="#000" stroke-width="1.7"/>
<path d="M295.00 328.00 V333.80" stroke="#000" stroke-width="1.7"/>
<path d="M320.90 328.00 V333.80" stroke="#000" stroke-width="1.7"/>
<path d="M223.00 288.70 L243.20 288.70 L244.80 293.70" fill="none" stroke="#ff0000" stroke-width="2.6" stroke-linejoin="miter" stroke-linecap="butt"/>
<path d="M250.30 311.80 L257.40 330.90" fill="none" stroke="#ff0000" stroke-width="2.6" stroke-linejoin="miter" stroke-linecap="butt"/>
<rect x="246.05" y="301.95" width="2.50" height="2.50" fill="#ff0000"/>
<text transform="translate(209.20,292.47) scale(1,1.04)" font-size="7.0" text-anchor="middle">1</text>
<text transform="translate(217.70,343.47) scale(1,1.04)" font-size="7.0" text-anchor="middle">1</text>
<text transform="translate(244.30,343.47) scale(1,1.04)" font-size="7.0" text-anchor="middle">2</text>
<text transform="translate(269.90,343.47) scale(1,1.04)" font-size="7.0" text-anchor="middle">3</text>
<text transform="translate(295.00,343.47) scale(1,1.04)" font-size="7.0" text-anchor="middle">4</text>
<text transform="translate(320.90,343.47) scale(1,1.04)" font-size="7.0" text-anchor="middle">5</text>
<text transform="translate(231.80,284.19) scale(1,1.04)" font-size="6.5" text-anchor="middle">Poor</text>
<text transform="translate(272.90,284.19) scale(1,1.04)" font-size="6.5" text-anchor="middle">Fair</text>
<text transform="translate(315.90,284.19) scale(1,1.04)" font-size="6.5" text-anchor="middle">Good</text>
<text transform="translate(195.20,310.00) rotate(-90)" x="0" y="2.38" font-size="6.6" text-anchor="middle" font-weight="bold">Membership</text>
<text transform="translate(203.20,310.00) rotate(-90)" x="0" y="2.38" font-size="6.6" text-anchor="middle" font-weight="bold">level</text>
<text transform="translate(277.40,351.82) scale(1,1.04)" font-size="6.6" text-anchor="middle" font-weight="bold">Rating</text>
<text transform="translate(275.40,363.45) scale(1,1.04)" font-size="7.5" text-anchor="middle" font-weight="bold">S6: Condition of the</text>
<text transform="translate(275.40,372.05) scale(1,1.04)" font-size="7.5" text-anchor="middle" font-weight="bold">aqueduct’s infrastructure</text>
<path d="M372.10 287.40 H380.70" stroke="#000" stroke-width="1.7"/>
<path d="M376.40 288.50 L384.20 288.50 L401.20 330.90" fill="none" stroke="#92d050" stroke-width="2.5" stroke-linejoin="miter" stroke-linecap="butt"/>
<path d="M386.80 330.90 L404.80 284.90" fill="none" stroke="#0070c0" stroke-width="2.5" stroke-dasharray="2.89 2.56" stroke-linejoin="miter" stroke-linecap="butt"/>
<path d="M404.80 284.90 L407.30 330.90" fill="none" stroke="#0070c0" stroke-width="2.5" stroke-dasharray="2.97 2.63" stroke-linejoin="miter" stroke-linecap="butt"/>
<path d="M386.80 331.70 L407.30 331.70" fill="none" stroke="#0070c0" stroke-width="2.2" stroke-dasharray="2.33 2.07" stroke-linejoin="miter" stroke-linecap="butt"/>
<path d="M376.40 277.90 V330.90 H519.70" fill="none" stroke="#000" stroke-width="2.0" stroke-linejoin="miter"/>
<path d="M376.40 274.90 l2.9 5.4 h-5.8 z" fill="#000"/>
<path d="M522.70 330.90 l-5.4 -2.9 v5.8 z" fill="#000"/>
<path d="M387.20 328.00 V333.80" stroke="#000" stroke-width="1.7"/>
<path d="M400.30 328.00 V333.80" stroke="#000" stroke-width="1.7"/>
<path d="M413.40 328.00 V333.80" stroke="#000" stroke-width="1.7"/>
<path d="M426.50 328.00 V333.80" stroke="#000" stroke-width="1.7"/>
<path d="M439.60 328.00 V333.80" stroke="#000" stroke-width="1.7"/>
<path d="M452.70 328.00 V333.80" stroke="#000" stroke-width="1.7"/>
<path d="M465.80 328.00 V333.80" stroke="#000" stroke-width="1.7"/>
<path d="M478.90 328.00 V333.80" stroke="#000" stroke-width="1.7"/>
<path d="M492.00 328.00 V333.80" stroke="#000" stroke-width="1.7"/>
<path d="M505.10 328.00 V333.80" stroke="#000" stroke-width="1.7"/>
<path d="M407.30 330.90 L411.00 310.00" fill="none" stroke="#ff0000" stroke-width="2.6" stroke-linejoin="miter" stroke-linecap="butt"/>
<path d="M413.30 292.40 L414.60 286.20 L433.40 286.20" fill="none" stroke="#ff0000" stroke-width="2.6" stroke-linejoin="miter" stroke-linecap="butt"/>
<path d="M451.70 286.20 L471.80 286.20" fill="none" stroke="#ff0000" stroke-width="2.6" stroke-linejoin="miter" stroke-linecap="butt"/>
<path d="M489.90 286.20 L503.20 286.20" fill="none" stroke="#ff0000" stroke-width="2.6" stroke-linejoin="miter" stroke-linecap="butt"/>
<rect x="411.05" y="300.45" width="2.50" height="2.50" fill="#ff0000"/>
<rect x="441.15" y="284.95" width="2.50" height="2.50" fill="#ff0000"/>
<rect x="479.35" y="284.95" width="2.50" height="2.50" fill="#ff0000"/>
<text transform="translate(368.40,291.77) scale(1,1.04)" font-size="7.0" text-anchor="middle">1</text>
<text transform="translate(378.90,344.17) scale(1,1.04)" font-size="7.0" text-anchor="middle">0</text>
<text transform="translate(401.00,344.17) scale(1,1.04)" font-size="7.0" text-anchor="middle">20</text>
<text transform="translate(425.40,344.17) scale(1,1.04)" font-size="7.0" text-anchor="middle">40</text>
<text transform="translate(453.70,344.17) scale(1,1.04)" font-size="7.0" text-anchor="middle">60</text>
<text transform="translate(480.60,344.17) scale(1,1.04)" font-size="7.0" text-anchor="middle">80</text>
<text transform="translate(505.60,344.17) scale(1,1.04)" font-size="7.0" text-anchor="middle">100</text>
<text transform="translate(386.40,280.99) scale(1,1.04)" font-size="6.5" text-anchor="middle">Low</text>
<text transform="translate(408.30,280.99) scale(1,1.04)" font-size="6.5" text-anchor="middle">Medium</text>
<text transform="translate(452.20,280.99) scale(1,1.04)" font-size="6.5" text-anchor="middle">High</text>
<text transform="translate(354.00,304.20) rotate(-90)" x="0" y="2.38" font-size="6.6" text-anchor="middle" font-weight="bold">Membership</text>
<text transform="translate(361.90,304.20) rotate(-90)" x="0" y="2.38" font-size="6.6" text-anchor="middle" font-weight="bold">level</text>
<text transform="translate(442.90,350.12) scale(1,1.04)" font-size="6.6" text-anchor="middle" font-weight="bold">%</text>
<text transform="translate(448.50,363.25) scale(1,1.04)" font-size="7.5" text-anchor="middle" font-weight="bold">S7: Level of water losses in the</text>
<text transform="translate(448.30,372.45) scale(1,1.04)" font-size="7.5" text-anchor="middle" font-weight="bold">aqueduct</text>
<path d="M33.40 399.10 H42.00" stroke="#000" stroke-width="1.7"/>
<path d="M37.70 399.10 L59.80 399.10 L74.80 440.90" fill="none" stroke="#92d050" stroke-width="2.5" stroke-linejoin="miter" stroke-linecap="butt"/>
<path d="M62.30 440.90 L72.80 399.10" fill="none" stroke="#0070c0" stroke-width="2.5" stroke-dasharray="2.93 2.60" stroke-linejoin="miter" stroke-linecap="butt"/>
<path d="M72.80 399.10 L90.40 399.10" fill="none" stroke="#0070c0" stroke-width="2.5" stroke-dasharray="2.33 2.07" stroke-linejoin="miter" stroke-linecap="butt"/>
<path d="M90.40 399.10 L100.40 440.90" fill="none" stroke="#0070c0" stroke-width="2.5" stroke-dasharray="2.94 2.60" stroke-linejoin="miter" stroke-linecap="butt"/>
<path d="M62.30 440.30 L100.40 440.30" fill="none" stroke="#0070c0" stroke-width="2.2" stroke-dasharray="2.33 2.07" stroke-linejoin="miter" stroke-linecap="butt"/>
<path d="M37.70 387.60 V440.90 H171.80" fill="none" stroke="#000" stroke-width="2.0" stroke-linejoin="miter"/>
<path d="M37.70 384.60 l2.9 5.4 h-5.8 z" fill="#000"/>
<path d="M174.80 440.90 l-5.4 -2.9 v5.8 z" fill="#000"/>
<path d="M48.20 438.00 V443.80" stroke="#000" stroke-width="1.7"/>
<path d="M61.26 438.00 V443.80" stroke="#000" stroke-width="1.7"/>
<path d="M74.32 438.00 V443.80" stroke="#000" stroke-width="1.7"/>
<path d="M87.38 438.00 V443.80" stroke="#000" stroke-width="1.7"/>
<path d="M100.44 438.00 V443.80" stroke="#000" stroke-width="1.7"/>
<path d="M113.50 438.00 V443.80" stroke="#000" stroke-width="1.7"/>
<path d="M126.56 438.00 V443.80" stroke="#000" stroke-width="1.7"/>
<path d="M139.62 438.00 V443.80" stroke="#000" stroke-width="1.7"/>
<path d="M152.68 438.00 V443.80" stroke="#000" stroke-width="1.7"/>
<path d="M165.74 438.00 V443.80" stroke="#000" stroke-width="1.7"/>
<path d="M86.60 440.90 L92.40 421.70" fill="none" stroke="#ff0000" stroke-width="2.6" stroke-linejoin="miter" stroke-linecap="butt"/>
<path d="M97.90 402.90 L99.20 399.60 L116.70 399.60" fill="none" stroke="#ff0000" stroke-width="2.6" stroke-linejoin="miter" stroke-linecap="butt"/>
<path d="M136.80 399.60 L155.70 399.60" fill="none" stroke="#ff0000" stroke-width="2.6" stroke-linejoin="miter" stroke-linecap="butt"/>
<rect x="94.15" y="410.95" width="2.50" height="2.50" fill="#ff0000"/>
<rect x="125.55" y="398.35" width="2.50" height="2.50" fill="#ff0000"/>
<rect x="164.45" y="398.35" width="2.50" height="2.50" fill="#ff0000"/>
<text transform="translate(29.60,402.17) scale(1,1.04)" font-size="7.0" text-anchor="middle">1</text>
<text transform="translate(37.70,453.37) scale(1,1.04)" font-size="7.0" text-anchor="middle">0</text>
<text transform="translate(64.00,453.37) scale(1,1.04)" font-size="7.0" text-anchor="middle">20</text>
<text transform="translate(87.10,453.37) scale(1,1.04)" font-size="7.0" text-anchor="middle">40</text>
<text transform="translate(119.30,453.37) scale(1,1.04)" font-size="7.0" text-anchor="middle">60</text>
<text transform="translate(145.30,453.37) scale(1,1.04)" font-size="7.0" text-anchor="middle">80</text>
<text transform="translate(172.60,453.37) scale(1,1.04)" font-size="7.0" text-anchor="middle">100</text>
<text transform="translate(49.00,394.49) scale(1,1.04)" font-size="6.5" text-anchor="middle">Low</text>
<text transform="translate(81.60,394.49) scale(1,1.04)" font-size="6.5" text-anchor="middle">Medium</text>
<text transform="translate(129.80,393.99) scale(1,1.04)" font-size="6.5" text-anchor="middle">High</text>
<text transform="translate(16.90,414.20) rotate(-90)" x="0" y="2.38" font-size="6.6" text-anchor="middle" font-weight="bold">Membership</text>
<text transform="translate(24.40,414.20) rotate(-90)" x="0" y="2.38" font-size="6.6" text-anchor="middle" font-weight="bold">level</text>
<text transform="translate(113.50,460.52) scale(1,1.04)" font-size="6.6" text-anchor="middle" font-weight="bold">%</text>
<text transform="translate(108.70,471.95) scale(1,1.04)" font-size="7.5" text-anchor="middle" font-weight="bold">S8: Economic losses of the aqueduct</text>
<text transform="translate(108.00,481.45) scale(1,1.04)" font-size="7.5" text-anchor="middle" font-weight="bold">due to extreme climatic impacts</text>
<path d="M214.60 399.10 H223.20" stroke="#000" stroke-width="1.7"/>
<path d="M218.90 441.10 L244.83 401.10 L269.71 441.10" fill="none" stroke="#92d050" stroke-width="2.5" stroke-linejoin="miter" stroke-linecap="butt"/>
<path d="M218.90 440.80 L269.71 440.80" fill="none" stroke="#92d050" stroke-width="2.0" stroke-linejoin="miter" stroke-linecap="butt"/>
<path d="M270.75 440.75 L288.38 440.75" fill="none" stroke="#ff0000" stroke-width="2.5" stroke-linejoin="miter" stroke-linecap="butt"/>
<path d="M303.16 440.75 L322.60 440.75" fill="none" stroke="#ff0000" stroke-width="2.5" stroke-linejoin="miter" stroke-linecap="butt"/>
<path d="M245.34 441.10 L271.27 399.10" fill="none" stroke="#0070c0" stroke-width="2.5" stroke-dasharray="2.81 2.49" stroke-linejoin="miter" stroke-linecap="butt"/>
<path d="M271.27 399.10 L296.68 441.10" fill="none" stroke="#0070c0" stroke-width="2.5" stroke-dasharray="2.81 2.49" stroke-linejoin="miter" stroke-linecap="butt"/>
<path d="M245.34 440.90 L296.68 440.90" fill="none" stroke="#0070c0" stroke-width="2.2" stroke-dasharray="2.33 2.07" stroke-linejoin="miter" stroke-linecap="butt"/>
<path d="M218.90 385.80 V441.10 H336.70" fill="none" stroke="#000" stroke-width="2.0" stroke-linejoin="miter"/>
<path d="M218.90 382.80 l2.9 5.4 h-5.8 z" fill="#000"/>
<path d="M339.70 441.10 l-5.4 -2.9 v5.8 z" fill="#000"/>
<path d="M245.60 438.20 V444.00" stroke="#000" stroke-width="1.7"/>
<path d="M271.70 438.20 V444.00" stroke="#000" stroke-width="1.7"/>
<path d="M296.80 438.20 V444.00" stroke="#000" stroke-width="1.7"/>
<path d="M322.60 438.20 V444.00" stroke="#000" stroke-width="1.7"/>
<path d="M270.75 440.65 L288.38 440.65" fill="none" stroke="#c80000" stroke-width="0.9" stroke-linejoin="miter" stroke-linecap="butt"/>
<path d="M303.16 440.65 L322.60 440.65" fill="none" stroke="#c80000" stroke-width="0.9" stroke-linejoin="miter" stroke-linecap="butt"/>
<path d="M271.35 441.10 L275.39 434.80" fill="none" stroke="#ff0000" stroke-width="2.6" stroke-linejoin="miter" stroke-linecap="butt"/>
<path d="M285.37 419.26 L296.96 401.20" fill="none" stroke="#ff0000" stroke-width="2.6" stroke-linejoin="miter" stroke-linecap="butt"/>
<path d="M306.70 412.96 L318.13 431.86" fill="none" stroke="#ff0000" stroke-width="2.6" stroke-linejoin="miter" stroke-linecap="butt"/>
<rect x="279.81" y="424.73" width="2.50" height="2.50" fill="#ff0000"/>
<rect x="300.87" y="404.15" width="2.50" height="2.50" fill="#ff0000"/>
<rect x="321.20" y="437.75" width="2.50" height="2.50" fill="#ff0000"/>
<text transform="translate(207.70,401.67) scale(1,1.04)" font-size="7.0" text-anchor="middle">1</text>
<text transform="translate(218.90,453.17) scale(1,1.04)" font-size="7.0" text-anchor="middle">0</text>
<text transform="translate(245.60,453.17) scale(1,1.04)" font-size="7.0" text-anchor="middle">1</text>
<text transform="translate(271.70,453.17) scale(1,1.04)" font-size="7.0" text-anchor="middle">2</text>
<text transform="translate(296.80,453.17) scale(1,1.04)" font-size="7.0" text-anchor="middle">3</text>
<text transform="translate(322.60,453.17) scale(1,1.04)" font-size="7.0" text-anchor="middle">4</text>
<text transform="translate(271.90,386.99) scale(1,1.04)" font-size="6.5" text-anchor="middle">Occasionally</text>
<text transform="translate(243.60,396.49) scale(1,1.04)" font-size="6.5" text-anchor="middle">Never</text>
<text transform="translate(299.50,395.99) scale(1,1.04)" font-size="6.5" text-anchor="middle">Frequently</text>
<text transform="translate(192.60,421.20) rotate(-90)" x="0" y="2.38" font-size="6.6" text-anchor="middle" font-weight="bold">Membership</text>
<text transform="translate(200.90,421.20) rotate(-90)" x="0" y="2.38" font-size="6.6" text-anchor="middle" font-weight="bold">level</text>
<text transform="translate(279.20,460.02) scale(1,1.04)" font-size="6.6" text-anchor="middle" font-weight="bold">Rating</text>
<text transform="translate(272.70,472.15) scale(1,1.04)" font-size="7.5" text-anchor="middle" font-weight="bold">S9: Changes in the continuity of aqueduct</text>
<text transform="translate(272.40,481.45) scale(1,1.04)" font-size="7.5" text-anchor="middle" font-weight="bold">service due to extreme climatic events</text>
<path d="M546.60 300.50 L598.90 300.50" fill="none" stroke="#0070c0" stroke-width="2.4" stroke-dasharray="2.6 2.4" stroke-linejoin="miter" stroke-linecap="butt"/>
<path d="M546.40 340.70 L598.90 340.70" fill="none" stroke="#92d050" stroke-width="2.5" stroke-linejoin="miter" stroke-linecap="butt"/>
<path d="M545.70 271.10 L565.70 271.10" fill="none" stroke="#ff0000" stroke-width="2.6" stroke-linejoin="miter" stroke-linecap="butt"/>
<path d="M584.00 271.10 L598.90 271.10" fill="none" stroke="#ff0000" stroke-width="2.6" stroke-linejoin="miter" stroke-linecap="butt"/>
<rect x="573.75" y="269.85" width="2.50" height="2.50" fill="#ff0000"/>
<text transform="translate(609.70,260.15) scale(1,1.04)" font-size="7.5" text-anchor="middle" font-weight="bold">Legend</text>
<text transform="translate(609.30,273.29) scale(1,1.04)" font-size="7.6" text-anchor="start">Indicate</text>
<text transform="translate(641.99,273.29) scale(1,1.04)" font-size="7.6" text-anchor="start">variables</text>
<text transform="translate(609.30,282.19) scale(1,1.04)" font-size="7.6" text-anchor="start">that</text>
<text transform="translate(643.68,282.19) scale(1,1.04)" font-size="7.6" text-anchor="start">increase</text>
<text transform="translate(609.30,291.39) scale(1,1.04)" font-size="7.6" text-anchor="start" textLength="40.6" lengthAdjust="spacingAndGlyphs">vulnerability</text>
<text transform="translate(609.30,303.29) scale(1,1.04)" font-size="7.6" text-anchor="start" textLength="33.0" lengthAdjust="spacingAndGlyphs">Represent</text>
<text transform="translate(609.30,312.19) scale(1,1.04)" font-size="7.6" text-anchor="start">variables</text>
<text transform="translate(645.89,312.19) scale(1,1.04)" font-size="7.6" text-anchor="start">with</text>
<text transform="translate(665.57,312.19) scale(1,1.04)" font-size="7.6" text-anchor="start">a</text>
<text transform="translate(609.30,321.49) scale(1,1.04)" font-size="7.6" text-anchor="start">moderate</text>
<text transform="translate(663.04,321.49) scale(1,1.04)" font-size="7.6" text-anchor="start">or</text>
<text transform="translate(609.30,329.99) scale(1,1.04)" font-size="7.6" text-anchor="start" textLength="56.0" lengthAdjust="spacingAndGlyphs">neutral influence</text>
<text transform="translate(609.30,342.39) scale(1,1.04)" font-size="7.6" text-anchor="start">Indicate</text>
<text transform="translate(641.99,342.39) scale(1,1.04)" font-size="7.6" text-anchor="start">variables</text>
<text transform="translate(609.30,351.39) scale(1,1.04)" font-size="7.6" text-anchor="start">that</text>
<text transform="translate(649.16,351.39) scale(1,1.04)" font-size="7.6" text-anchor="start">reduce</text>
<text transform="translate(609.30,359.99) scale(1,1.04)" font-size="7.6" text-anchor="start" textLength="40.6" lengthAdjust="spacingAndGlyphs">vulnerability</text>
</svg></body></html>
